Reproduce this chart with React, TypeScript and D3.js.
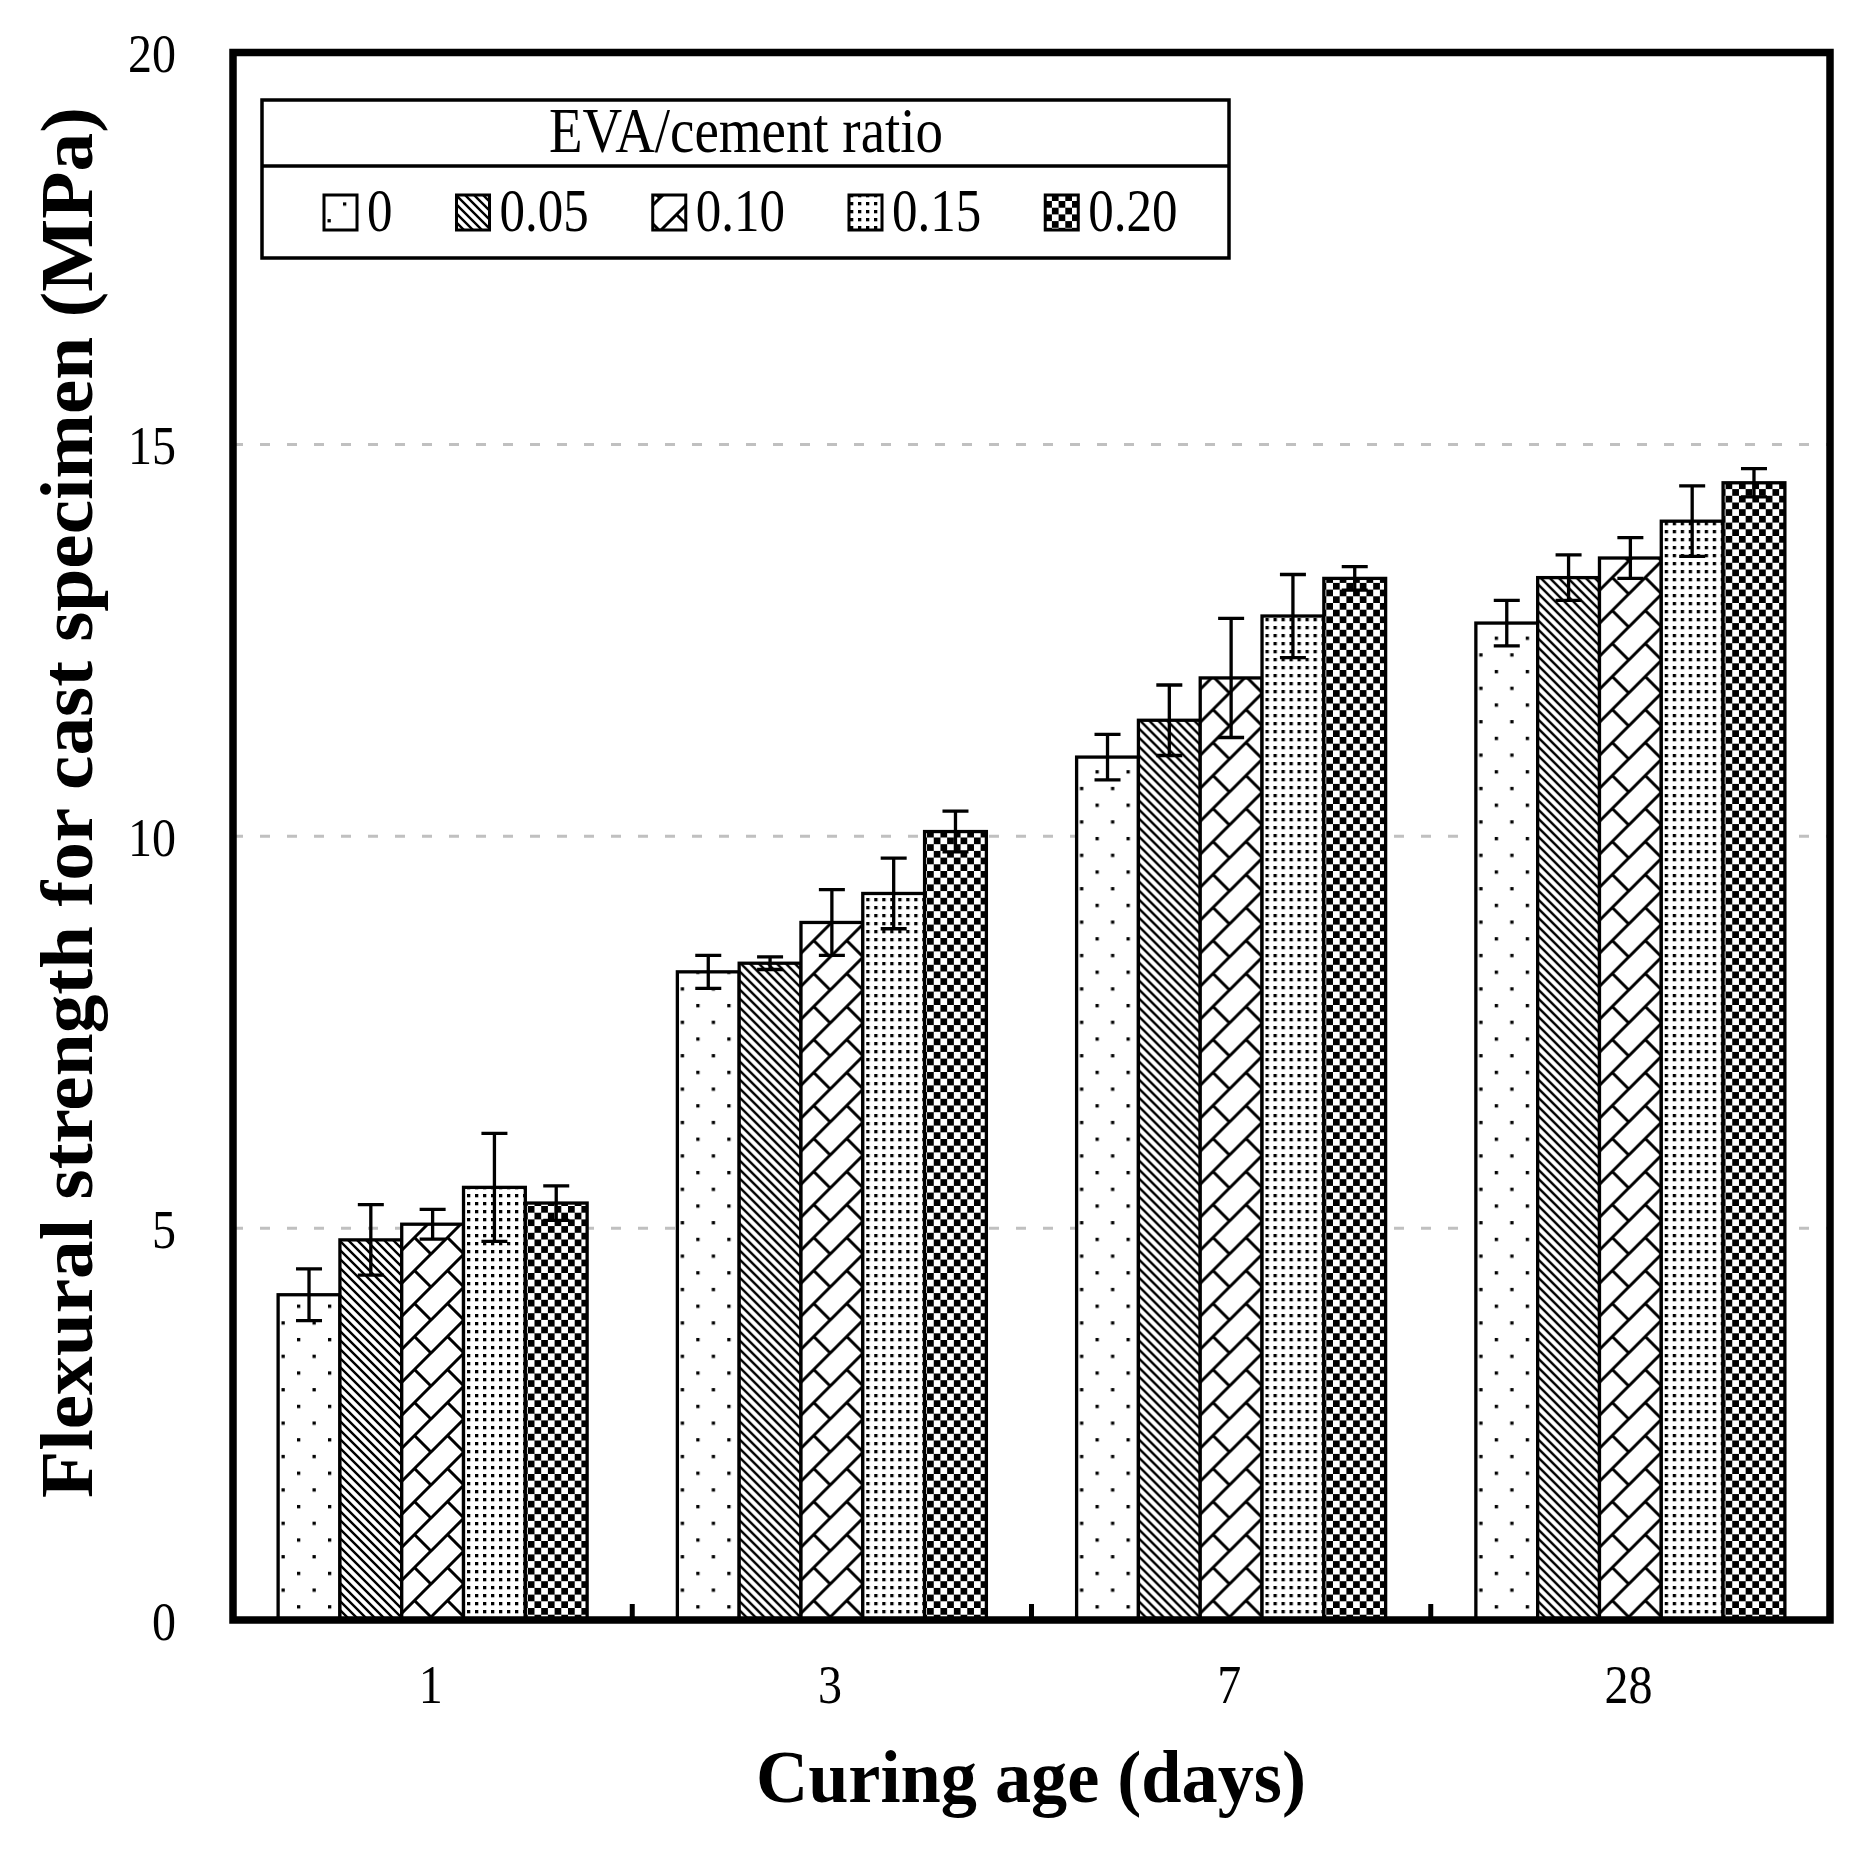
import { useEffect, useRef } from "react";
import * as d3 from "d3";

// curing age groups
const days = ["1", "3", "7", "28"];
// EVA/cement ratios (series)
const ratios = ["0", "0.05", "0.10", "0.15", "0.20"];

// mean flexural strength (MPa) per ratio, one value per curing age
const mean0 = [4.15, 8.27, 11.01, 12.72];
const mean005 = [4.85, 8.38, 11.48, 13.3];
const mean010 = [5.05, 8.9, 12.02, 13.55];
const mean015 = [5.52, 9.27, 12.81, 14.02];
const mean020 = [5.32, 10.06, 13.29, 14.51];

// error bar half-lengths
const err0 = [0.33, 0.21, 0.29, 0.29];
const err005 = [0.45, 0.08, 0.45, 0.29];
const err010 = [0.19, 0.42, 0.76, 0.26];
const err015 = [0.69, 0.45, 0.53, 0.45];
const err020 = [0.22, 0.26, 0.15, 0.18];

const yTicks = [0, 5, 10, 15, 20];
const gridTicks = [5, 10, 15];

const means = [mean0, mean005, mean010, mean015, mean020];
const errs = [err0, err005, err010, err015, err020];

const W = 1863;
const H = 1856;
const FONT = "'Liberation Serif', 'Times New Roman', serif";

export default function App() {
  const ref = useRef<SVGSVGElement>(null);

  useEffect(() => {
    if (!ref.current) return;
    const svg = d3.select(ref.current);
    svg.selectAll("*").remove();

    const m = { l: 233, r: 1830, t: 52.5, b: 1620 };

    const x0 = d3.scaleBand<string>().domain(days).range([m.l, m.r]).padding(0);
    const x1 = d3
      .scaleBand<string>()
      .domain(ratios)
      .range([0, x0.bandwidth()])
      .paddingInner(0)
      .paddingOuter(0.73);
    const y = d3.scaleLinear().domain([0, 20]).range([m.b, m.t]);

    // fill patterns
    const defs = svg.append("defs");
    const mkPat = (id: string, w: number, h: number) => {
      const p = defs
        .append("pattern")
        .attr("id", id)
        .attr("patternUnits", "userSpaceOnUse")
        .attr("width", w)
        .attr("height", h);
      p.append("rect").attr("width", w).attr("height", h).attr("fill", "#fff");
      return p;
    };
    const p0 = mkPat("pat-0", 31, 33.4);
    p0.append("rect").attr("x", 2).attr("y", 2).attr("width", 3.3).attr("height", 3.3).attr("fill", "#000");
    p0.append("rect").attr("x", 17.5).attr("y", 18.7).attr("width", 3.3).attr("height", 3.3).attr("fill", "#000");

    const p1 = mkPat("pat-1", 9, 9);
    p1.append("path")
      .attr("d", "M0,0L9,9M-2,7L2,11M7,-2L11,2")
      .attr("stroke", "#000")
      .attr("stroke-width", 2.4);

    const p2 = mkPat("pat-2", 33, 33);
    p2.append("path")
      .attr("d", "M0,33L33,0M16.5,16.5L33,33M-2,2L2,-2M31,35L35,31")
      .attr("stroke", "#000")
      .attr("stroke-width", 3);

    const p3 = mkPat("pat-3", 8, 8);
    p3.append("rect").attr("x", 2).attr("y", 2).attr("width", 3.3).attr("height", 3.3).attr("fill", "#000");

    const p4 = mkPat("pat-4", 13.4, 13.4);
    p4.append("rect").attr("width", 6.7).attr("height", 6.7).attr("fill", "#000");
    p4.append("rect").attr("x", 6.7).attr("y", 6.7).attr("width", 6.7).attr("height", 6.7).attr("fill", "#000");

    // dashed grid
    svg.append("g")
      .selectAll("line")
      .data(gridTicks)
      .join("line")
      .attr("x1", m.l)
      .attr("x2", m.r)
      .attr("y1", (d) => y(d))
      .attr("y2", (d) => y(d))
      .attr("stroke", "#c0c0c0")
      .attr("stroke-width", 3)
      .attr("stroke-dasharray", "10 17");

    // bars
    const groups = svg.append("g")
      .selectAll("g")
      .data(days)
      .join("g")
      .attr("transform", (d) => `translate(${x0(d)},0)`);

    groups.each(function (_d, gi) {
      const g = d3.select(this);
      ratios.forEach((r, si) => {
        const v = means[si][gi];
        g.append("rect")
          .attr("x", x1(r)!)
          .attr("y", y(v))
          .attr("width", x1.bandwidth())
          .attr("height", y(0) - y(v))
          .attr("fill", `url(#pat-${si})`)
          .attr("stroke", "#000")
          .attr("stroke-width", 3.3);
      });
    });

    // error bars on top
    groups.each(function (_d, gi) {
      const g = d3.select(this);
      ratios.forEach((r, si) => {
        const v = means[si][gi];
        const e = errs[si][gi];
        const cx = x1(r)! + x1.bandwidth() / 2;
        const cap = 13;
        g.append("path")
          .attr(
            "d",
            `M${cx},${y(v + e)}V${y(v - e)}M${cx - cap},${y(v + e)}H${cx + cap}M${cx - cap},${y(v - e)}H${cx + cap}`
          )
          .attr("stroke", "#000")
          .attr("stroke-width", 3.3)
          .attr("fill", "none");
      });
    });

    // x ticks between groups (inward)
    svg.append("g")
      .selectAll("line")
      .data(days.slice(1))
      .join("line")
      .attr("x1", (d) => x0(d)!)
      .attr("x2", (d) => x0(d)!)
      .attr("y1", m.b)
      .attr("y2", m.b - 16)
      .attr("stroke", "#000")
      .attr("stroke-width", 5);

    // frame
    svg.append("rect")
      .attr("x", m.l)
      .attr("y", m.t)
      .attr("width", m.r - m.l)
      .attr("height", m.b - m.t)
      .attr("fill", "none")
      .attr("stroke", "#000")
      .attr("stroke-width", 7.5);

    // y tick labels
    svg.append("g")
      .selectAll("text")
      .data(yTicks)
      .join("text")
      .attr("transform", (d) => `translate(176,${y(d) + 19.5}) scale(1,1.14)`)
      .attr("text-anchor", "end")
      .attr("font-family", FONT)
      .attr("font-size", 48)
      .text((d) => d);

    // x tick labels
    svg.append("g")
      .selectAll("text")
      .data(days)
      .join("text")
      .attr("transform", (d) => `translate(${x0(d)! + x0.bandwidth() / 2 - 2},1703) scale(1,1.14)`)
      .attr("text-anchor", "middle")
      .attr("font-family", FONT)
      .attr("font-size", 48)
      .text((d) => d);

    // axis titles
    svg.append("text")
      .attr("x", 1031)
      .attr("y", 1802)
      .attr("text-anchor", "middle")
      .attr("font-family", FONT)
      .attr("font-weight", "bold")
      .attr("font-size", 73)
      .attr("textLength", 550)
      .attr("lengthAdjust", "spacingAndGlyphs")
      .text("Curing age (days)");

    svg.append("text")
      .attr("transform", "translate(92,802.5) rotate(-90)")
      .attr("text-anchor", "middle")
      .attr("font-family", FONT)
      .attr("font-weight", "bold")
      .attr("font-size", 73)
      .attr("textLength", 1391)
      .attr("lengthAdjust", "spacingAndGlyphs")
      .text("Flexural strength for cast specimen (MPa)");

    // legend
    const lg = svg.append("g");
    lg.append("rect")
      .attr("x", 262)
      .attr("y", 100)
      .attr("width", 967)
      .attr("height", 158)
      .attr("fill", "#fff")
      .attr("stroke", "#000")
      .attr("stroke-width", 3.5);
    lg.append("line")
      .attr("x1", 262)
      .attr("x2", 1229)
      .attr("y1", 166)
      .attr("y2", 166)
      .attr("stroke", "#000")
      .attr("stroke-width", 3.5);
    lg.append("text")
      .attr("transform", "translate(746,152) scale(1,1.17)")
      .attr("text-anchor", "middle")
      .attr("font-family", FONT)
      .attr("font-size", 55)
      .attr("textLength", 394)
      .attr("lengthAdjust", "spacingAndGlyphs")
      .text("EVA/cement ratio");

    let lx = 324;
    ratios.forEach((r, i) => {
      lg.append("rect")
        .attr("x", lx)
        .attr("y", 195)
        .attr("width", 33)
        .attr("height", 35)
        .attr("fill", `url(#pat-${i})`)
        .attr("stroke", "#000")
        .attr("stroke-width", 3);
      const t = lg.append("text")
        .attr("transform", `translate(${lx + 43},231) scale(1,1.2)`)
        .attr("font-family", FONT)
        .attr("font-size", 51)
        .text(r);
      const tw = (t.node() as SVGTextElement).getComputedTextLength();
      lx = lx + 43 + tw + 64;
    });
  }, []);

  return (
    <svg
      ref={ref}
      width={W}
      height={H}
      viewBox={`0 0 ${W} ${H}`}
      style={{ position: "absolute", left: 0, top: 0, background: "#fff" }}
    />
  );
}
